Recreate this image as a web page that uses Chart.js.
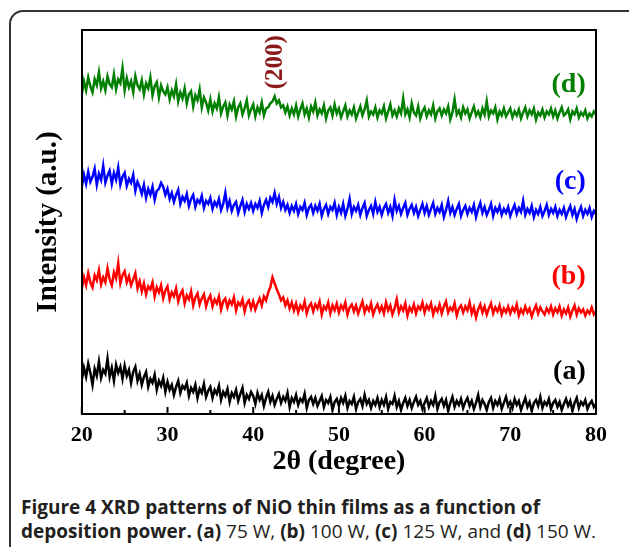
<!DOCTYPE html>
<html lang="en">
<head>
    <meta charset="UTF-8">
    <title>XRD patterns of NiO thin films</title>
    <script src="https://cdn.jsdelivr.net/npm/chart.js"></script>
    <style>
        body { margin: 0; background: #fff; }
        .frame {
            position: absolute; left: 9px; top: 10px; width: 640px; height: 560px;
            border: 2px solid #333; border-radius: 14px; box-sizing: border-box;
        }
        #chartBox { position: absolute; left: 0; top: 0; width: 629px; height: 480px; }
        #plotBox {
            position: absolute; left: 81px; top: 29px; width: 517px; height: 385px;
            border: 2px solid #000; box-sizing: border-box;
            pointer-events: none; z-index: 5;
        }
        .caption {
            position: absolute; left: 21px; top: 495px; width: 606px;
            font-family: "Open Sans", sans-serif; font-size: 19px; line-height: 24px; color: #231f20;
            white-space: nowrap;
        }
        .caption b { font-weight: 700; }
    </style>
</head>
<body>
    <div class="frame"></div>
    <div id="chartBox"><canvas id="xrdChart" width="629" height="480"></canvas></div>
    <div id="plotBox"></div>
    <div class="caption">
        <b>Figure 4 XRD patterns of NiO thin films as a function of</b><br>
        <b>deposition power. (a)</b> 75 W, <b>(b)</b> 100 W, <b>(c)</b> 125 W, and <b>(d)</b> 150 W.
    </div>

    <script>
        // 2-theta sampling used when reading the traces off the figure
        const angleStart = 20;
        const angleStep = 0.25;
        const xTickLabels = [20, 30, 40, 50, 60, 70, 80];
        const yRange = [0, 382];
        const seriesNames = ['(a)', '(b)', '(c)', '(d)'];
        const peakLabel = '(200)';

        // intensity (a.u., offset traces), one row = 5 degrees
        const seriesA = [
            34, 46, 37, 50, 41, 29, 45, 38, 52, 36, 44, 40, 55, 37, 46, 33, 49, 41, 47, 35,
            48, 38, 44, 31, 42, 47, 33, 40, 29, 37, 42, 27, 35, 31, 39, 24, 33, 28, 36, 22,
            32, 24, 29, 19, 27, 33, 21, 28, 25, 31, 18, 26, 22, 29, 16, 25, 21, 30, 17, 23,
            27, 16, 24, 20, 28, 14, 22, 18, 25, 12, 21, 17, 24, 13, 20, 26, 11, 19, 15, 22,
            18, 10, 21, 14, 19, 8, 16, 22, 12, 18, 9, 15, 20, 11, 17, 13, 21, 7, 16, 12,
            19, 9, 15, 12, 20, 6, 14, 17, 10, 16, 8, 13, 18, 7, 14, 11, 17, 4, 12, 15,
            8, 16, 11, 18, 6, 13, 10, 17, 5, 12, 15, 8, 19, 10, 14, 6, 13, 9, 16, 7,
            14, 9, 17, 5, 12, 10, 18, 7, 13, 4, 11, 16, 8, 14, 6, 12, 17, 9, 13, 5,
            11, 16, 7, 13, 9, 18, 5, 12, 15, 8, 14, 3, 11, 17, 7, 13, 9, 15, 6, 12,
            16, 8, 13, 5, 11, 19, 7, 14, 10, 4, 12, 16, 6, 13, 9, 15, 5, 11, 17, 8,
            12, 6, 15, 9, 13, 4, 10, 16, 7, 12, 3, 11, 14, 8, 17, 6, 12, 9, 15, 5,
            11, 14, 7, 12, 4, 10, 15, 8, 13, 3, 11, 16, 6, 12, 9, 14, 5, 10, 13, 7,
            10
        ];
        const seriesB = [
            125, 136, 128, 140, 131, 126, 138, 133, 143, 129, 136, 131, 145, 134, 128, 141, 135, 150, 130, 138,
            142, 131, 137, 128, 134, 140, 125, 132, 122, 130, 119, 127, 124, 131, 117, 126, 121, 128, 115, 123,
            127, 114, 121, 117, 125, 112, 119, 123, 110, 118, 114, 122, 108, 116, 120, 109, 115, 119, 107, 114,
            118, 107, 114, 110, 117, 104, 112, 115, 106, 113, 109, 116, 103, 111, 108, 114, 102, 110, 113, 105,
            112, 104, 110, 115, 108, 117, 113, 121, 126, 136, 130, 124, 119, 113, 116, 108, 113, 105, 111, 103,
            110, 101, 108, 104, 112, 100, 107, 110, 102, 109, 105, 112, 99, 107, 104, 111, 100, 108, 103, 110,
            101, 108, 104, 111, 99, 106, 109, 102, 108, 100, 106, 112, 101, 107, 103, 110, 99, 105, 109, 102,
            107, 100, 111, 103, 108, 99, 105, 114, 101, 107, 103, 110, 98, 106, 102, 109, 100, 107, 104, 111,
            101, 108, 104, 110, 99, 106, 102, 109, 100, 107, 112, 101, 106, 103, 110, 98, 105, 108, 101, 107,
            103, 111, 100, 106, 96, 104, 109, 101, 107, 99, 105, 110, 100, 106, 102, 108, 99, 105, 101, 107,
            100, 106, 102, 109, 98, 104, 100, 107, 101, 105, 97, 103, 108, 100, 106, 102, 99, 105, 101, 107,
            99, 105, 101, 107, 98, 104, 100, 106, 97, 103, 108, 99, 105, 101, 104, 98, 103, 100, 106, 99,
            102
        ];
        const seriesC = [
            226, 238, 229, 241, 231, 236, 244, 228, 239, 233, 247, 230, 237, 242, 229, 240, 233, 245, 228, 236,
            240, 227, 234, 230, 238, 222, 231, 226, 219, 228, 215, 224, 218, 226, 213, 222, 224, 230, 226, 218,
            224, 214, 220, 211, 218, 223, 209, 216, 212, 219, 207, 214, 218, 206, 213, 210, 217, 205, 212, 209,
            215, 204, 211, 207, 214, 203, 209, 220, 205, 212, 202, 208, 211, 200, 207, 213, 201, 209, 204, 210,
            202, 209, 205, 212, 200, 208, 213, 206, 215, 211, 220, 209, 216, 205, 211, 203, 208, 200, 207, 202,
            209, 199, 206, 203, 210, 198, 205, 208, 200, 207, 202, 209, 197, 204, 208, 199, 206, 203, 210, 198,
            206, 200, 209, 197, 204, 214, 199, 206, 202, 208, 198, 205, 210, 197, 203, 207, 199, 211, 201, 206,
            198, 205, 209, 200, 206, 197, 213, 202, 207, 199, 205, 210, 198, 204, 208, 200, 206, 197, 203, 209,
            200, 207, 198, 204, 210, 199, 205, 201, 208, 196, 203, 212, 200, 206, 198, 204, 209, 197, 203, 207,
            199, 205, 201, 208, 196, 204, 210, 200, 206, 198, 203, 209, 197, 205, 201, 207, 198, 204, 200, 206,
            197, 203, 208, 199, 205, 201, 212, 198, 204, 200, 207, 196, 203, 199, 206, 197, 202, 208, 198, 204,
            200, 206, 197, 203, 199, 205, 196, 202, 207, 198, 204, 194, 201, 206, 197, 203, 199, 205, 196, 202,
            199
        ];
        const seriesD = [
            318, 331, 322, 335, 326, 320, 333, 327, 340, 324, 331, 322, 336, 328, 325, 338, 323, 333, 329, 344,
            322, 334, 325, 331, 320, 336, 327, 323, 332, 318, 329, 324, 335, 317, 326, 330, 315, 327, 321, 318,
            325, 313, 322, 316, 328, 311, 320, 314, 324, 309, 318, 321, 306, 317, 312, 323, 305, 315, 310, 302,
            313, 301, 309, 304, 315, 299, 306, 310, 297, 308, 303, 311, 296, 305, 309, 298, 304, 312, 297, 303,
            308, 296, 305, 300, 310, 297, 304, 305, 309, 311, 316, 309, 312, 305, 307, 300, 306, 297, 304, 298,
            307, 296, 303, 309, 298, 304, 295, 306, 301, 310, 297, 303, 299, 307, 294, 302, 305, 297, 308, 299,
            304, 295, 301, 307, 296, 302, 298, 305, 294, 300, 306, 297, 303, 312, 296, 301, 298, 305, 295, 302,
            299, 306, 294, 301, 308, 297, 302, 296, 304, 299, 314, 298, 303, 295, 309, 300, 297, 306, 294, 301,
            305, 296, 302, 298, 307, 294, 301, 304, 297, 303, 299, 306, 293, 300, 313, 298, 302, 295, 305, 299,
            303, 294, 300, 306, 297, 301, 295, 304, 298, 311, 296, 302, 299, 305, 293, 301, 297, 304, 296, 300,
            304, 295, 301, 297, 303, 294, 300, 305, 296, 302, 298, 304, 293, 300, 297, 303, 295, 301, 298, 304,
            296, 302, 294, 300, 305, 297, 299, 303, 293, 301, 298, 304, 295, 300, 297, 302, 294, 299, 296, 301,
            298
        ];

        const toPoints = arr => arr.map((v, i) => ({ x: angleStart + i * angleStep, y: v }));

        const serif = '"Liberation Serif", "Times New Roman", serif';

        // inward ticks and the text labels inside the plot
        const decorPlugin = {
            id: 'decor',
            afterDatasetsDraw(chart) {
                const ctx = chart.ctx;
                const xs = chart.scales.x, ys = chart.scales.y;
                const B = Math.round(ys.getPixelForValue(yRange[0]));
                ctx.save();
                ctx.fillStyle = 'rgb(0,0,0)';
                xTickLabels.forEach(v => {
                    const px = xs.getPixelForValue(v);
                    ctx.fillRect(px - 1, B - 7, 2, 7);
                    if (v < 80) {
                        const pm = xs.getPixelForValue(v + 5);
                        ctx.fillRect(pm - 1, B - 4, 2, 4);
                    }
                });

                const labelPos = [42, 137, 231, 328];
                ctx.font = 'bold 28px ' + serif;
                ctx.textAlign = 'right';
                ctx.textBaseline = 'middle';
                chart.data.datasets.forEach((ds, i) => {
                    ctx.fillStyle = ds.borderColor;
                    ctx.fillText(seriesNames[i], xs.getPixelForValue(78.8), ys.getPixelForValue(labelPos[i]));
                });

                ctx.translate(xs.getPixelForValue(42.6), ys.getPixelForValue(350));
                ctx.rotate(-Math.PI / 2);
                ctx.textAlign = 'center';
                ctx.font = 'bold 25px ' + serif;
                ctx.fillStyle = '#8b1a1a';
                ctx.fillText(peakLabel, 0, 0);
                ctx.restore();
            },
            afterDraw(chart) {
                // keep the overlay frame on the plot area edges
                const xs = chart.scales.x, ys = chart.scales.y;
                const L = Math.round(xs.getPixelForValue(xTickLabels[0]));
                const R = Math.round(xs.getPixelForValue(xTickLabels[xTickLabels.length - 1]));
                const T = Math.round(ys.getPixelForValue(yRange[1]));
                const B = Math.round(ys.getPixelForValue(yRange[0]));
                const box = document.getElementById('plotBox');
                if ([L, R, T, B].every(Number.isFinite) && box) {
                    box.style.left = (L - 1) + 'px';
                    box.style.top = (T - 1) + 'px';
                    box.style.width = (R - L + 2) + 'px';
                    box.style.height = (B - T + 2) + 'px';
                }
            }
        };

        const colors = ['#000000', '#ff0000', '#0000ff', '#007f00'];
        const config = {
            type: 'line',
            data: {
                datasets: [seriesA, seriesB, seriesC, seriesD].map((s, i) => ({
                    label: seriesNames[i],
                    data: toPoints(s),
                    borderColor: colors[i],
                    borderWidth: 2.5,
                    pointRadius: 0,
                    tension: 0
                }))
            },
            options: {
                responsive: false,
                animation: false,
                devicePixelRatio: 1,
                layout: { padding: { left: 31, right: 33, top: 30, bottom: 1 } },
                plugins: { legend: { display: false }, tooltip: { enabled: false } },
                scales: {
                    x: {
                        type: 'linear',
                        min: 20,
                        max: 80,
                        grid: { display: false, drawTicks: false },
                        border: { display: false },
                        afterBuildTicks: axis => { axis.ticks = xTickLabels.map(v => ({ value: v })); },
                        ticks: {
                            padding: 8,
                            color: '#000',
                            font: { family: serif, size: 22, weight: 'bold' }
                        },
                        title: {
                            display: true,
                            text: '2θ (degree)',
                            color: '#000',
                            padding: { top: -11, bottom: 0 },
                            font: { family: serif, size: 28, weight: 'bold' }
                        }
                    },
                    y: {
                        min: yRange[0],
                        max: yRange[1],
                        grid: { display: false, drawTicks: false },
                        border: { display: false },
                        ticks: { display: false },
                        title: {
                            display: true,
                            text: 'Intensity (a.u.)',
                            color: '#000',
                            padding: { top: 0, bottom: 16 },
                            font: { family: serif, size: 29, weight: 'bold' }
                        }
                    }
                }
            },
            plugins: [decorPlugin]
        };

        new Chart(document.getElementById('xrdChart').getContext('2d'), config);
    </script>
</body>
</html>
